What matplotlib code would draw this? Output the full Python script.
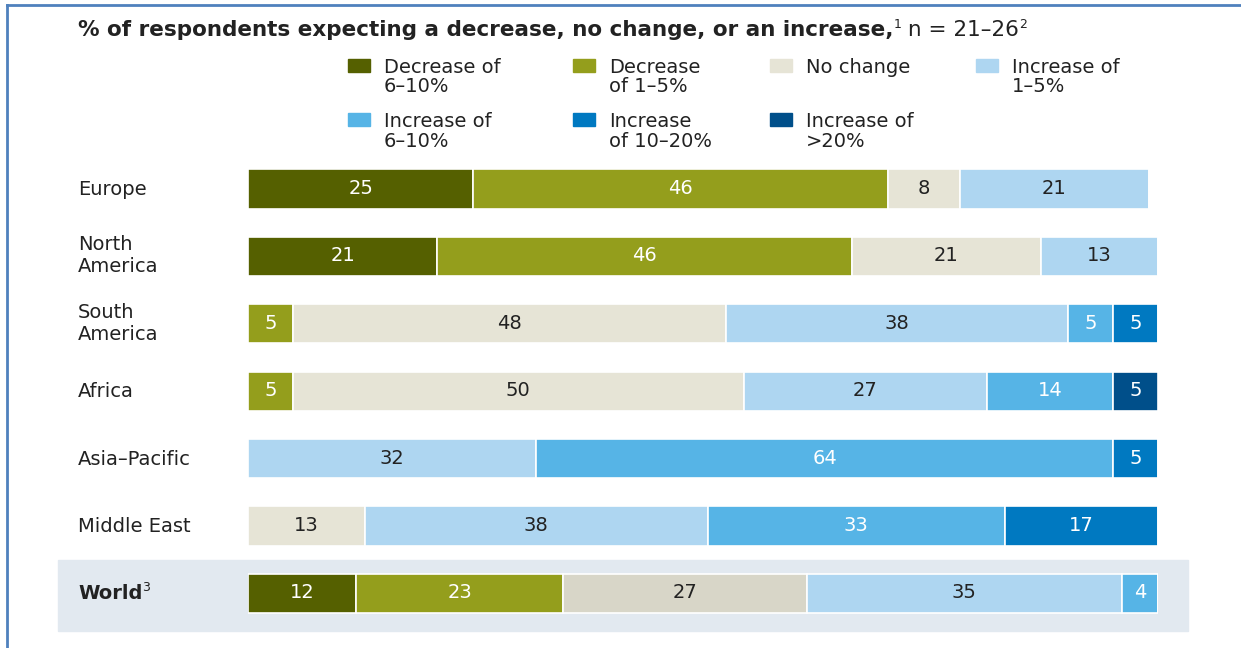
import matplotlib.pyplot as plt
from matplotlib.patches import Rectangle
from matplotlib import transforms

plt.rcParams['font.family'] = ['DejaVu Sans']

# Share of respondents per region, by expected change
regions = ['Europe', 'North\nAmerica', 'South\nAmerica', 'Africa',
           'Asia–Pacific', 'Middle East', 'World']
dec_6_10 = [25, 21, 0, 0, 0, 0, 12]
dec_1_5 = [46, 46, 5, 5, 0, 0, 23]
no_change = [8, 21, 48, 50, 0, 13, 27]
inc_1_5 = [21, 13, 38, 27, 32, 38, 35]
inc_6_10 = [0, 0, 5, 14, 64, 33, 4]
inc_10_20 = [0, 0, 5, 0, 5, 17, 0]
inc_20 = [0, 0, 0, 5, 0, 0, 0]

series = [dec_6_10, dec_1_5, no_change, inc_1_5, inc_6_10, inc_10_20, inc_20]
legend_labels = ['Decrease of\n6–10%', 'Decrease\nof 1–5%', 'No change', 'Increase of\n1–5%',
                 'Increase of\n6–10%', 'Increase\nof 10–20%', 'Increase of\n>20%']
colors = ['#556000', '#949e1c', '#e6e4d6', '#aed6f1', '#56b4e6', '#0079c1', '#004f8a']
text_colors = ['white', 'white', '#222222', '#222222', 'white', 'white', 'white']

W, H = 1241, 648
fig = plt.figure(figsize=(W / 100, H / 100), dpi=100)
renderer = fig.canvas.get_renderer()
TXT = '#222222'
FS = 14


def fx(px):
    return px / W


def fy(py):
    return 1 - py / H


# frame lines along top and left edges
fig.add_artist(plt.Line2D([fx(7), 1], [fy(5), fy(5)], color='#4f81bd', lw=2))
fig.add_artist(plt.Line2D([fx(7), fx(7)], [fy(5), 0], color='#4f81bd', lw=2))

# shaded band behind the World row
fig.add_artist(Rectangle((fx(58), fy(631)), fx(1188) - fx(58), fy(560) - fy(631),
                         transform=fig.transFigure, color='#e2e9f0', zorder=0))


def runs(x, y, parts):
    # place text pieces one after another on a shared baseline
    for text, weight, size, rise in parts:
        t = fig.text(fx(x), fy(y - rise), text, fontsize=size, fontweight=weight,
                     color=TXT, va='baseline', ha='left')
        x += t.get_window_extent(renderer).width


def lines(x, y, text, gap, **kw):
    # one text per line, baselines `gap` pixels apart
    for k, line in enumerate(text.split('\n')):
        fig.text(fx(x), fy(y + k * gap), line, va='baseline', ha='left', **kw)


runs(78, 36, [('% of respondents expecting a decrease, no change, or an increase,', 'bold', 15.5, 0),
              ('1', 'normal', 9, 8), (' n = 21–26', 'normal', 15.5, 0), ('2', 'normal', 9, 8)])

# legend, two rows of four
leg_x = [348, 573, 770, 976]
leg_y = [73, 127]
for i, (lab, col) in enumerate(zip(legend_labels, colors)):
    r, c = divmod(i, 4)
    x, y = leg_x[c], leg_y[r]
    fig.add_artist(Rectangle((fx(x), fy(y - 1)), fx(22), 13 / H,
                             transform=fig.transFigure, color=col))
    lines(x + 36, y, lab, 19.5, fontsize=FS, color=TXT)

# bar axes: x=0 at 248 px, 101 units span to 1158 px
top, bottom, row0, step = 150, 640, 189, 67.4
ax = fig.add_axes([fx(248), fy(bottom), fx(1158) - fx(248), fy(top) - fy(bottom)])
ax.set_xlim(0, 101)
ax.set_ylim((bottom - row0) / step, (top - row0) / step)
ax.axis('off')

down = transforms.offset_copy(ax.transData, fig=fig, x=0, y=-5.0, units='dots')
ypos = list(range(len(regions)))
left = [0] * len(regions)
for vals, col, tc in zip(series, colors, text_colors):
    # the World row uses a slightly deeper neutral tone
    cols = ['#d8d6c8' if (col == '#e6e4d6' and regions[y] == 'World') else col for y in ypos]
    ax.barh(ypos, vals, left=left, height=0.58, color=cols, edgecolor='white', linewidth=1.2)
    for y, v, l in zip(ypos, vals, left):
        if v > 0:
            ax.text(l + v / 2, y, str(v), ha='center', va='baseline', fontsize=FS,
                    color=tc, transform=down)
    left = [l + v for l, v in zip(left, vals)]

for y, name in zip(ypos, regions):
    cy = row0 + y * step
    if name == 'World':
        runs(78, cy + 6, [('World', 'bold', FS, 0), ('3', 'normal', 9, 8)])
    elif '\n' in name:
        lines(78, cy - 6, name, 22, fontsize=FS, color=TXT)
    else:
        lines(78, cy + 6, name, 22, fontsize=FS, color=TXT)

fig.savefig('out.png', dpi=100)
